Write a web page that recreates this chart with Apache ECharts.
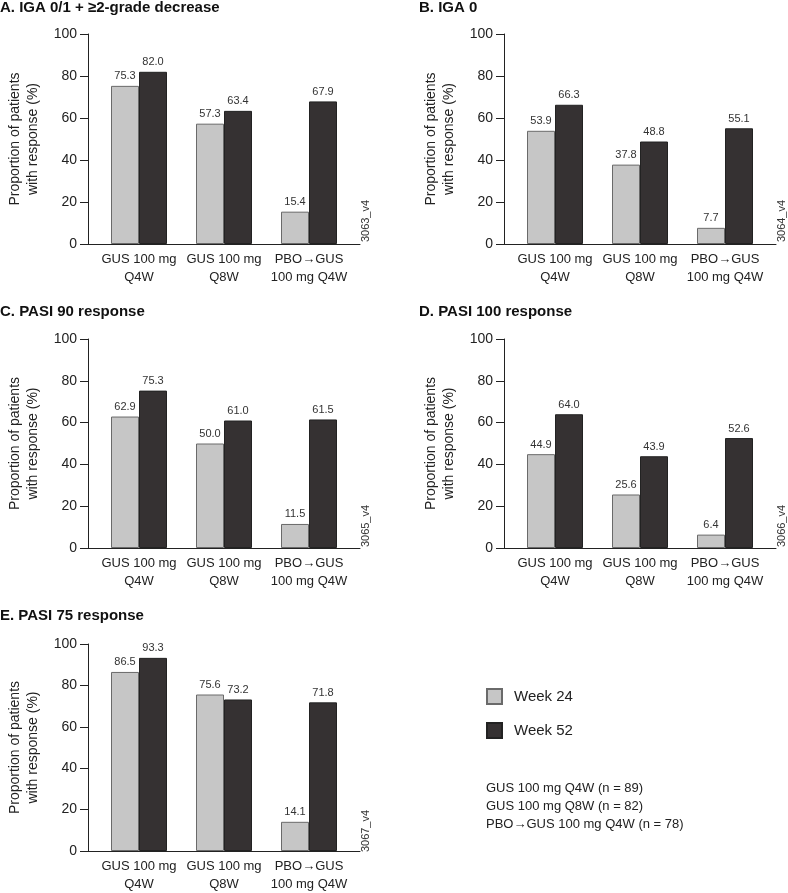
<!DOCTYPE html>
<html>
<head>
<meta charset="utf-8">
<title>Response rates</title>
<script src="https://cdn.jsdelivr.net/npm/echarts@6/dist/echarts.min.js"></script>
<style>
  html, body { margin: 0; padding: 0; background: #fff; }
  #main { width: 788px; height: 893px; }
</style>
</head>
<body>
<div id="main"></div>
<script>
var categories = ['GUS 100 mg\nQ4W', 'GUS 100 mg\nQ8W', 'PBO\u2192GUS\n100 mg Q4W'];
var seriesNames = ['Week 24', 'Week 52'];

var panelTitles = ['A. IGA 0/1 + \u22652-grade decrease', 'B. IGA 0', 'C. PASI 90 response', 'D. PASI 100 response', 'E. PASI 75 response'];
var panelCodes = ['3063_v4', '3064_v4', '3065_v4', '3066_v4', '3067_v4'];

// week 24 / week 52 values for each panel
var week24A = [75.3, 57.3, 15.4];
var week52A = [82.0, 63.4, 67.9];
var week24B = [53.9, 37.8, 7.7];
var week52B = [66.3, 48.8, 55.1];
var week24C = [62.9, 50.0, 11.5];
var week52C = [75.3, 61.0, 61.5];
var week24D = [44.9, 25.6, 6.4];
var week52D = [64.0, 43.9, 52.6];
var week24E = [86.5, 75.6, 14.1];
var week52E = [93.3, 73.2, 71.8];

var nLines = ['GUS 100 mg Q4W (n = 89)', 'GUS 100 mg Q8W (n = 82)', 'PBO\u2192GUS 100 mg Q4W (n = 78)'];

var week24 = [week24A, week24B, week24C, week24D, week24E];
var week52 = [week52A, week52B, week52C, week52D, week52E];

// grid boxes: left, top, height
var boxes = [
    {left: 88, top: 34, height: 210},
    {left: 504, top: 34, height: 210},
    {left: 88, top: 339, height: 209},
    {left: 504, top: 339, height: 209},
    {left: 88, top: 644, height: 209}
];
var titleTops = [0, 0, 304, 304, 608];
var FONT = 'Liberation Sans, Arial, Helvetica, sans-serif';

var grids = [], xAxes = [], yAxes = [], series = [], titles = [], graphics = [];

boxes.forEach(function (b, i) {
    grids.push({left: b.left, top: b.top, width: 272, height: b.height, containLabel: false});
    xAxes.push({
        type: 'value', gridIndex: i, min: -0.6, max: 2.6,
        axisLine: {show: true, onZero: false, lineStyle: {color: '#222', width: 1}},
        axisTick: {show: false},
        splitLine: {show: false},
        axisLabel: {
            customValues: [0, 1, 2],
            formatter: function (v) { return categories[Math.round(v)]; },
            fontFamily: FONT, fontSize: 13, lineHeight: 18, color: '#222', margin: 6
        }
    });
    yAxes.push({
        type: 'value', gridIndex: i, min: 0, max: 100, interval: 20,
        name: 'Proportion of patients\nwith response (%)',
        nameLocation: 'middle', nameGap: 46,
        nameTextStyle: {fontFamily: FONT, fontSize: 14, lineHeight: 18, color: '#222'},
        axisLine: {show: true, onZero: false, lineStyle: {color: '#222', width: 1}},
        axisTick: {show: true, inside: false, length: 8, lineStyle: {color: '#222'}},
        splitLine: {show: false},
        axisLabel: {fontFamily: FONT, fontSize: 14, color: '#222', margin: 11}
    });
    var label = {
        show: true, position: 'top', distance: 4,
        fontFamily: FONT, fontSize: 11, color: '#333',
        formatter: function (p) { return p.value[1].toFixed(1); }
    };
    series.push({
        name: seriesNames[0], type: 'bar', xAxisIndex: i, yAxisIndex: i,
        barWidth: 28, barGap: '0%',
        itemStyle: {color: '#c6c6c6', borderColor: '#6a6a6a', borderWidth: 1},
        label: label,
        data: week24[i].map(function (v, k) { return [k, v]; })
    });
    series.push({
        name: seriesNames[1], type: 'bar', xAxisIndex: i, yAxisIndex: i,
        barWidth: 28, barGap: '0%',
        itemStyle: {color: '#353132', borderColor: '#222', borderWidth: 1},
        label: label,
        data: week52[i].map(function (v, k) { return [k, v]; })
    });
    titles.push({
        text: panelTitles[i], left: i % 2 === 0 ? 0 : 419, top: titleTops[i], padding: 0,
        textStyle: {fontFamily: FONT, fontSize: 15, fontWeight: 'bold', color: '#111', lineHeight: 16}
    });
    graphics.push({
        type: 'text', x: b.left + 278, y: b.top + 187, rotation: Math.PI / 2,
        style: {text: panelCodes[i], font: '11px ' + FONT, fill: '#333', align: 'center', verticalAlign: 'middle'}
    });
});

titles.push({
    text: nLines.join('\n'), left: 486, top: 779, padding: 0,
    textStyle: {fontFamily: FONT, fontSize: 13, fontWeight: 'normal', color: '#222', lineHeight: 18}
});

var myChart = echarts.init(document.getElementById('main'));
myChart.setOption({
    animation: false,
    title: titles,
    grid: grids,
    xAxis: xAxes,
    yAxis: yAxes,
    legend: {
        data: seriesNames, orient: 'vertical', left: 486, top: 688, padding: 0,
        icon: 'rect', itemWidth: 15, itemHeight: 15, itemGap: 17,
        textStyle: {fontFamily: FONT, fontSize: 15, color: '#222', padding: [0, 0, 0, 7]},
        selectedMode: false
    },
    graphic: graphics,
    series: series
});
</script>
</body>
</html>
